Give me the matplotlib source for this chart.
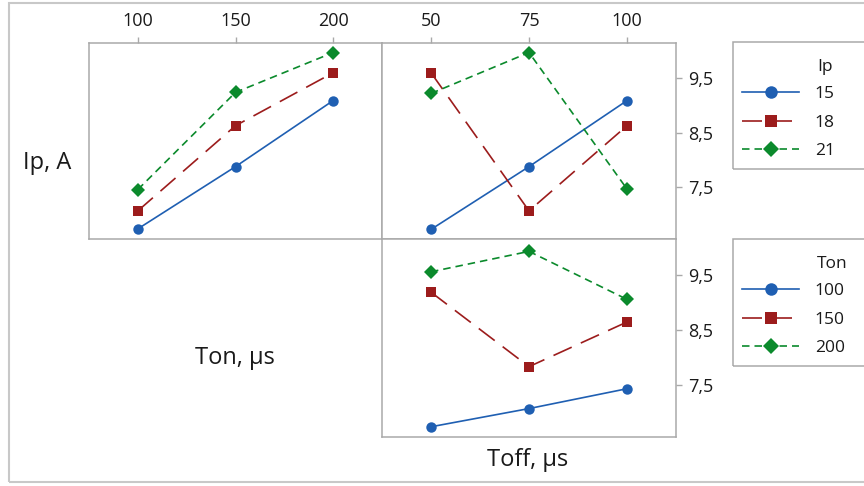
import matplotlib
matplotlib.use("Agg")
import matplotlib.pyplot as plt
from matplotlib.patches import Rectangle

# factor levels
TON = [100, 150, 200]
TOFF = [50, 75, 100]
IP_LEVELS = ["15", "18", "21"]
TON_LEVELS = ["100", "150", "200"]
Y_TICKS = [7.5, 8.5, 9.5]
Y_TICK_LABELS = ["7,5", "8,5", "9,5"]

# mean response, Ton on x, one series per Ip level
ip_vs_ton = [
    [6.74, 7.88, 9.09],
    [7.07, 8.63, 9.60],
    [7.46, 9.24, 9.97],
]
# mean response, Toff on x, one series per Ip level
ip_vs_toff = [
    [6.73, 7.88, 9.09],
    [9.60, 7.07, 8.63],
    [9.22, 9.97, 7.47],
]
# mean response, Toff on x, one series per Ton level
ton_vs_toff = [
    [6.74, 7.07, 7.43],
    [9.18, 7.83, 8.64],
    [9.55, 9.92, 9.05],
]

W, H = 864, 486
BLUE, RED, GREEN = "#1f5fb2", "#9c1c1c", "#0b8a2c"
STYLES = [
    dict(color=BLUE, marker="o", ms=7.5, linestyle="-"),
    dict(color=RED, marker="s", ms=6.8, linestyle=(0, (12, 6))),
    dict(color=GREEN, marker="D", ms=6.8, linestyle=(0, (4.5, 3))),
]
FRAME_C = "#a9a9a9"
TXT_C = "#1a1a1a"

plt.rcParams.update({
    "font.family": ["Open Sans", "DejaVu Sans"],
    "font.size": 12,
    "text.color": TXT_C,
    "xtick.color": FRAME_C, "ytick.color": FRAME_C,
    "xtick.labelcolor": TXT_C, "ytick.labelcolor": TXT_C,
    "xtick.labelsize": 13, "ytick.labelsize": 13,
    "lines.linewidth": 1.2,
})


def fx(px):
    return px / W


def fy(py):
    return 1 - py / H


fig = plt.figure(figsize=(W / 100, H / 100), dpi=100)

x0, x1, x2 = 89, 382, 676
y0, y1, y2 = 42.7, 238.7, 436.7
ax1 = fig.add_axes([fx(x0), fy(y1), fx(x1 - x0), (y1 - y0) / H])
ax2 = fig.add_axes([fx(x1), fy(y1), fx(x2 - x1), (y1 - y0) / H])
ax3 = fig.add_axes([fx(x1), fy(y2), fx(x2 - x1), (y2 - y1) / H])

YLIM = (6.56, 10.15)
panels = [
    (ax1, TON, ip_vs_ton, (75, 225)),
    (ax2, TOFF, ip_vs_toff, (37.5, 112.5)),
    (ax3, TOFF, ton_vs_toff, (37.5, 112.5)),
]
for ax, xs, series, xlim in panels:
    for ys, st in zip(series, STYLES):
        ax.plot(xs, ys, color=st["color"], linestyle=st["linestyle"],
                marker=st["marker"], markersize=st["ms"], markeredgewidth=0)
    ax.set_xlim(*xlim)
    ax.set_ylim(*YLIM)
    for sp in ax.spines.values():
        sp.set_color(FRAME_C)
        sp.set_linewidth(1.1)
    ax.tick_params(length=4, width=1, pad=5)

# top row: x ticks on top
for ax, xs in ((ax1, TON), (ax2, TOFF)):
    ax.xaxis.tick_top()
    ax.set_xticks(xs)
ax3.set_xticks([])
ax1.set_yticks([])
for ax in (ax2, ax3):
    ax.yaxis.tick_right()
    ax.set_yticks(Y_TICKS)
    ax.set_yticklabels(Y_TICK_LABELS)
    ax.tick_params(axis="y", pad=5)

# row / column labels
fig.text(fx(47), fy(163), "Ip, A", ha="center", va="center", fontsize=17)
fig.text(fx(235), fy(358), "Ton, µs", ha="center", va="center", fontsize=17)
fig.text(fx(528), fy(460), "Toff, µs", ha="center", va="center", fontsize=17)

# outer frame
fig.add_artist(Rectangle((fx(9), fy(482)), 1.2, (482 - 3) / H,
                         transform=fig.transFigure, fill=False,
                         ec="#c8c8c8", lw=1.5, clip_on=False))

# legends
for (top, bot), title, labels in (((42, 169), "Ip", IP_LEVELS),
                                  ((239, 366), "Ton", TON_LEVELS)):
    fig.add_artist(Rectangle((fx(733), fy(bot)), 0.3, (bot - top) / H,
                             transform=fig.transFigure, fill=False,
                             ec=FRAME_C, lw=1.1, clip_on=False))
    fig.text(fx(817), fy(top + 25), title, ha="left", va="center", fontsize=12.5)
    handles = ax1.get_lines()
    fig.legend(handles, labels, loc="upper left",
               bbox_to_anchor=(fx(742), fy(top + 44)), frameon=False,
               fontsize=12.5, handlelength=3.3, handletextpad=0.9,
               labelspacing=0.72, borderpad=0, borderaxespad=0,
               markerscale=1.2)

fig.savefig("out.png", dpi=100)
